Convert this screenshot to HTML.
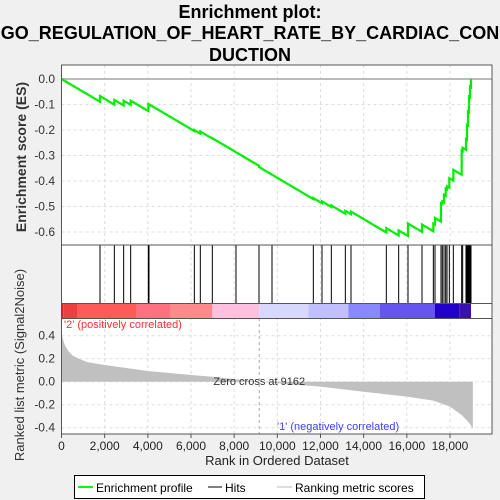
<!DOCTYPE html>
<html><head><meta charset="utf-8"><style>
body{margin:0;background:#f0f0f0;width:500px;height:500px;overflow:hidden}
svg{display:block;font-family:"Liberation Sans","DejaVu Sans",sans-serif}
</style></head><body>
<svg id="c" width="500" height="500">
<rect width="500" height="500" fill="#f0f0f0"/>
<g font-weight="bold" font-size="18" text-anchor="middle" fill="#000">
<text x="250" y="18">Enrichment plot:</text>
<text x="250" y="39">GO_REGULATION_OF_HEART_RATE_BY_CARDIAC_CON</text>
<text x="250" y="61">DUCTION</text>
</g>
<g id="grid"></g>
<g id="band"></g>
<g id="hits"></g>
<g id="metric"></g>
<g id="es"></g>
<g id="axes"></g>
<g>
<rect x="74.5" y="475.5" width="350" height="23" fill="#fff" stroke="#000"/>
<line x1="78" y1="487" x2="93" y2="487" stroke="#00ff00" stroke-width="2"/>
<text x="96" y="492" font-size="12">Enrichment profile</text>
<line x1="208" y1="487" x2="222" y2="487" stroke="#000"/>
<text x="225" y="492" font-size="12">Hits</text>
<line x1="277" y1="487" x2="292" y2="487" stroke="#bbb"/>
<text x="295" y="492" font-size="12">Ranking metric scores</text>
</g>
</svg>
<script>
const hitRanks=[1784,2448,2880,3205,4023,4054,6155,6432,6988,8085,9151,9753,11668,12070,12502,13151,13413,15050,15622,16054,16703,17228,17305,17583,17645,17722,17800,17861,17969,18155,18541,18587,18741,18788,18834,18880,18927,18973];
const esAfter=[-0.067,-0.082,-0.085,-0.085,-0.1,-0.099,-0.2,-0.206,-0.232,-0.287,-0.345,-0.375,-0.467,-0.48,-0.496,-0.517,-0.52,-0.585,-0.594,-0.567,-0.571,-0.567,-0.545,-0.487,-0.48,-0.454,-0.43,-0.421,-0.389,-0.356,-0.28,-0.27,-0.236,-0.18,-0.128,-0.069,-0.03,0.0];
const metricRanks=[0,50,150,300,500,800,1200,2000,4000,6000,7000,9162,12000,14000,16000,17228,18000,18540,18900,19060];
const metricVals=[0.42,0.38,0.32,0.27,0.23,0.20,0.17,0.145,0.093,0.058,0.043,0,-0.043,-0.087,-0.13,-0.165,-0.217,-0.29,-0.36,-0.41];
const xTicks=[0,2000,4000,6000,8000,10000,12000,14000,16000,18000];
const esTicks=[0,-0.1,-0.2,-0.3,-0.4,-0.5,-0.6];
const mTicks=[0.4,0.2,0,-0.2,-0.4];
const bandStops=[0,80,718,3483,5027,6988,9151,11436,13290,14757,17305,18432,18973];
const bandColors=["#e02020","#ea4040","#ff5a5a","#ff7080","#ff8a8a","#ffc0e0","#d8d8ff","#c0c0ff","#8888ff","#6655ee","#2200cc","#3a10b0"];
const N=19060, slope=5.0e-5;
const L=61.5,R=492;
const X=r=>L+r*0.021583;
const Yes=v=>79-v*255;
const Ym=v=>381.7-v*115;
const NS="http://www.w3.org/2000/svg";
function mk(p,t,a){const e=document.createElementNS(NS,t);for(const k in a)e.setAttribute(k,a[k]);document.getElementById(p).appendChild(e);return e;}
let e;
e=mk('grid','rect',{x:L,y:65,width:R-L,height:369,fill:'#fff',stroke:'none'});


xTicks.forEach(t=>{if(t>0){e=mk('grid','line',{x1:X(t),x2:X(t),y1:65,y2:434,stroke:'#ddd','stroke-dasharray':'3,3'});

}});
esTicks.forEach(t=>{e=mk('grid','line',{x1:L,x2:R,y1:Yes(t),y2:Yes(t),stroke:t===0?'#bbb':'#ddd','stroke-dasharray':t===0?'':'3,3','stroke-width':t===0?2:1});

});
mTicks.forEach(t=>{e=mk('grid','line',{x1:L,x2:R,y1:Ym(t),y2:Ym(t),stroke:'#ddd','stroke-dasharray':'3,3'});

});
for(let i=0;i<bandColors.length;i++){e=mk('band','rect',{x:X(bandStops[i]),y:303.5,width:X(bandStops[i+1])-X(bandStops[i]),height:15,fill:bandColors[i]});

}
hitRanks.forEach(r=>{e=mk('hits','line',{x1:X(r),x2:X(r),y1:245,y2:303,stroke:'#000','stroke-width':1});

});
let d='M'+X(0)+','+Ym(0);
metricRanks.forEach((r,i)=>{d+=' L'+X(r)+','+Ym(metricVals[i]);});
d+=' L'+X(N)+','+Ym(0)+' Z';
e=mk('metric','path',{d:d,fill:'#c0c0c0'});


e=mk('metric','line',{x1:X(9162),x2:X(9162),y1:318,y2:434,stroke:'#aaa','stroke-dasharray':'3,3'});


e=mk('metric','text',{x:X(9162),y:385,'font-size':11,'text-anchor':'middle',fill:'#333'});e.textContent='Zero cross at 9162';


e=mk('metric','text',{x:64,y:328,'font-size':11,fill:'#ff3030'});e.textContent="'2' (positively correlated)";


e=mk('metric','text',{x:277,y:430,'font-size':11,fill:'#4040ff'});e.textContent="'1' (negatively correlated)";


let pts=[[0,0]],prevR=0,prevV=0;
hitRanks.forEach((r,i)=>{const b=prevV-slope*(r-prevR);pts.push([r,b]);pts.push([r,esAfter[i]]);prevR=r;prevV=esAfter[i];});
e=mk('es','polyline',{points:pts.map(p=>X(p[0])+','+Yes(p[1])).join(' '),fill:'none',stroke:'#00ee00','stroke-width':2.2});


[[65,245],[245,303.5],[303.5,318.5],[318.5,434]].forEach(p=>{e=mk('axes','rect',{x:L,y:p[0],width:R-L,height:p[1]-p[0],fill:'none',stroke:'#555'});

});
esTicks.forEach(t=>{e=mk('axes','text',{x:55,y:Yes(t)+4,'font-size':12,'text-anchor':'end',fill:'#333'});e.textContent=t.toFixed(1);

});
mTicks.forEach(t=>{e=mk('axes','text',{x:55,y:Ym(t)+4,'font-size':12,'text-anchor':'end',fill:'#333'});e.textContent=t.toFixed(1);

});
xTicks.forEach(t=>{e=mk('axes','line',{x1:X(t),x2:X(t),y1:434,y2:438,stroke:'#555'});


e=mk('axes','text',{x:X(t),y:450,'font-size':12,'text-anchor':'middle',fill:'#222'});e.textContent=t.toLocaleString('en-US');

});
e=mk('axes','text',{x:277,y:465,'font-size':13,'text-anchor':'middle',fill:'#222'});e.textContent='Rank in Ordered Dataset';


e=mk('axes','text',{x:0,y:0,'font-size':14,'font-weight':'bold','text-anchor':'middle',fill:'#333',transform:'translate(26,157) rotate(-90)'});e.textContent='Enrichment score (ES)';


e=mk('axes','text',{x:0,y:0,'font-size':13,'text-anchor':'middle',fill:'#333',transform:'translate(24,365) rotate(-90)'});e.textContent='Ranked list metric (Signal2Noise)';


</script>
</body></html>
